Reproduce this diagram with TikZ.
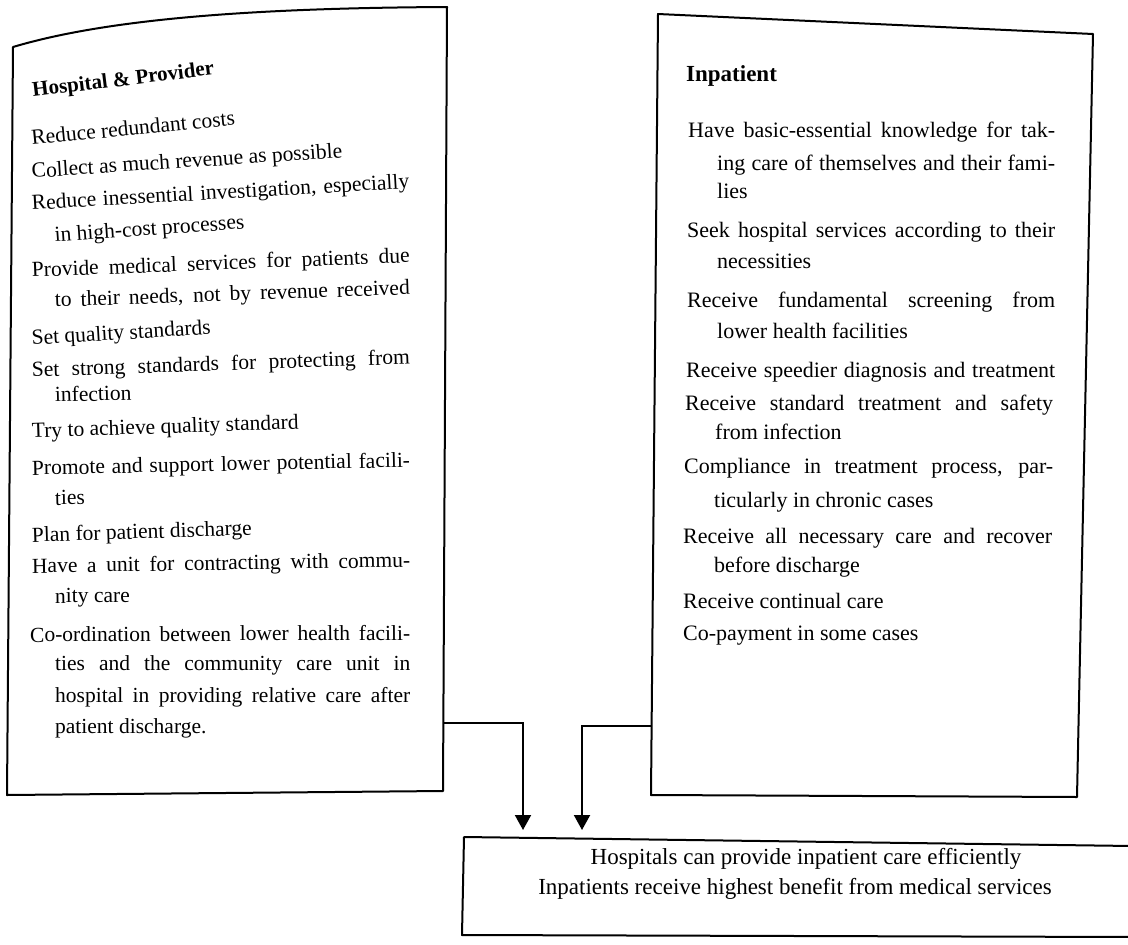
\documentclass[tikz,border=0pt]{standalone}
\usepackage{fontspec}
\setmainfont{Liberation Serif}
\usetikzlibrary{arrows.meta}
\tikzset{
  txt/.style={inner sep=0pt, anchor=base west, font=\fontsize{21.5}{24}\selectfont},
  rtxt/.style={inner sep=0pt, anchor=base west, font=\fontsize{22}{24}\selectfont},
  ttl/.style={inner sep=0pt, anchor=base west, font=\fontsize{21}{24}\selectfont\bfseries},
  rttl/.style={inner sep=0pt, anchor=base west, font=\fontsize{23}{24}\selectfont\bfseries},
  ctr/.style={inner sep=0pt, anchor=base, font=\fontsize{23}{26}\selectfont},
  frame/.style={line width=2pt, line join=round},
  conn/.style={line width=2pt, -{Triangle[width=16pt,length=15pt]}}
}
\newcommand{\jl}[2]{\makebox[#1pt][s]{#2}}
\begin{document}
\begin{tikzpicture}[x=1pt,y=-1pt]
\useasboundingbox (0,0) rectangle (1128,945);
\clip (0,0) rectangle (1128,945);

% left box
\draw[frame] (13,47) .. controls (110,18) and (260,8) .. (447,7) -- (443,791) -- (7,795) -- cycle;
% right box
\draw[frame] (658,14) -- (1093,34) -- (1077,797) -- (651,795) -- cycle;
% bottom box
\draw[frame] (1132,846) -- (464,837) -- (462,935) -- (1132,937);

% left texts
\node[ttl, rotate=7] (lt) at (33,97) {Hospital \& Provider};
\node[txt, rotate=5.6] (l1) at (32,145) {Reduce redundant costs};
\node[txt, rotate=3.8] (l2) at (32,178) {Collect as much revenue as possible};
\node[txt, rotate=3.3] (l3) at (32,210) {\jl{378}{Reduce inessential investigation, especially}};
\node[txt, rotate=4] (l4) at (55,242) {in high-cost processes};
\node[txt, rotate=2.2] (l5) at (32,277) {\jl{378}{Provide medical services for patients due}};
\node[txt, rotate=2] (l6) at (55,307) {\jl{355}{to their needs, not by revenue received}};
\node[txt, rotate=3.5] (l7) at (32,345) {Set quality standards};
\node[txt, rotate=2] (l8) at (32,377) {\jl{378}{Set strong standards for protecting from}};
\node[txt, rotate=1.5] (l9) at (55,402) {infection};
\node[txt, rotate=2] (l10) at (32,438) {Try to achieve quality standard};
\node[txt, rotate=1.2] (l11) at (32,475) {\jl{378}{Promote and support lower potential facili-}};
\node[txt, rotate=1] (l12) at (55,505) {ties};
\node[txt, rotate=1.8] (l13) at (32,542) {Plan for patient discharge};
\node[txt, rotate=0.9] (l14) at (32,573) {\jl{378}{Have a unit for contracting with commu-}};
\node[txt, rotate=0.5] (l15) at (55,603) {nity care};
\node[txt, rotate=0.3] (l16) at (30,642) {\jl{380}{Co-ordination between lower health facili-}};
\node[txt] (l17) at (55,670) {\jl{355}{ties and the community care unit in}};
\node[txt] (l18) at (55,702) {\jl{355}{hospital in providing relative care after}};
\node[txt] (l19) at (55,733) {patient discharge.};

% right texts
\node[rttl] (rt) at (686,81) {Inpatient};
\node[rtxt] (r1) at (688,137) {\jl{367}{Have basic-essential knowledge for tak-}};
\node[rtxt] (r2) at (717,170) {\jl{338}{ing care of themselves and their fami-}};
\node[rtxt] (r3) at (717,198) {lies};
\node[rtxt] (r4) at (687,237) {\jl{368}{Seek hospital services according to their}};
\node[rtxt] (r5) at (717,268) {necessities};
\node[rtxt] (r6) at (687,307) {\jl{368}{Receive fundamental screening from}};
\node[rtxt] (r7) at (717,338) {lower health facilities};
\node[rtxt] (r8) at (686,377) {\jl{369}{Receive speedier diagnosis and treatment}};
\node[rtxt] (r9) at (685,410) {\jl{368}{Receive standard treatment and safety}};
\node[rtxt] (r10) at (715,439) {from infection};
\node[rtxt] (r11) at (684,473) {\jl{369}{Compliance in treatment process, par-}};
\node[rtxt] (r12) at (714,507) {ticularly in chronic cases};
\node[rtxt] (r13) at (683,543) {\jl{369}{Receive all necessary care and recover}};
\node[rtxt] (r14) at (714,572) {before discharge};
\node[rtxt] (r15) at (683,608) {Receive continual care};
\node[rtxt] (r16) at (683,640) {Co-payment in some cases};

% bottom texts
\node[ctr] (b1) at (806,864) {Hospitals can provide inpatient care efficiently};
\node[ctr] (b2) at (795,894) {Inpatients receive highest benefit from medical services};

% connectors
\coordinate (L) at (443,723);
\coordinate (R) at (651,726);
\coordinate (tA) at (523,830);
\coordinate (tB) at (582,830);
\draw[conn] (L) -| (tA);
\draw[conn] (R) -| (tB);
\end{tikzpicture}
\end{document}
